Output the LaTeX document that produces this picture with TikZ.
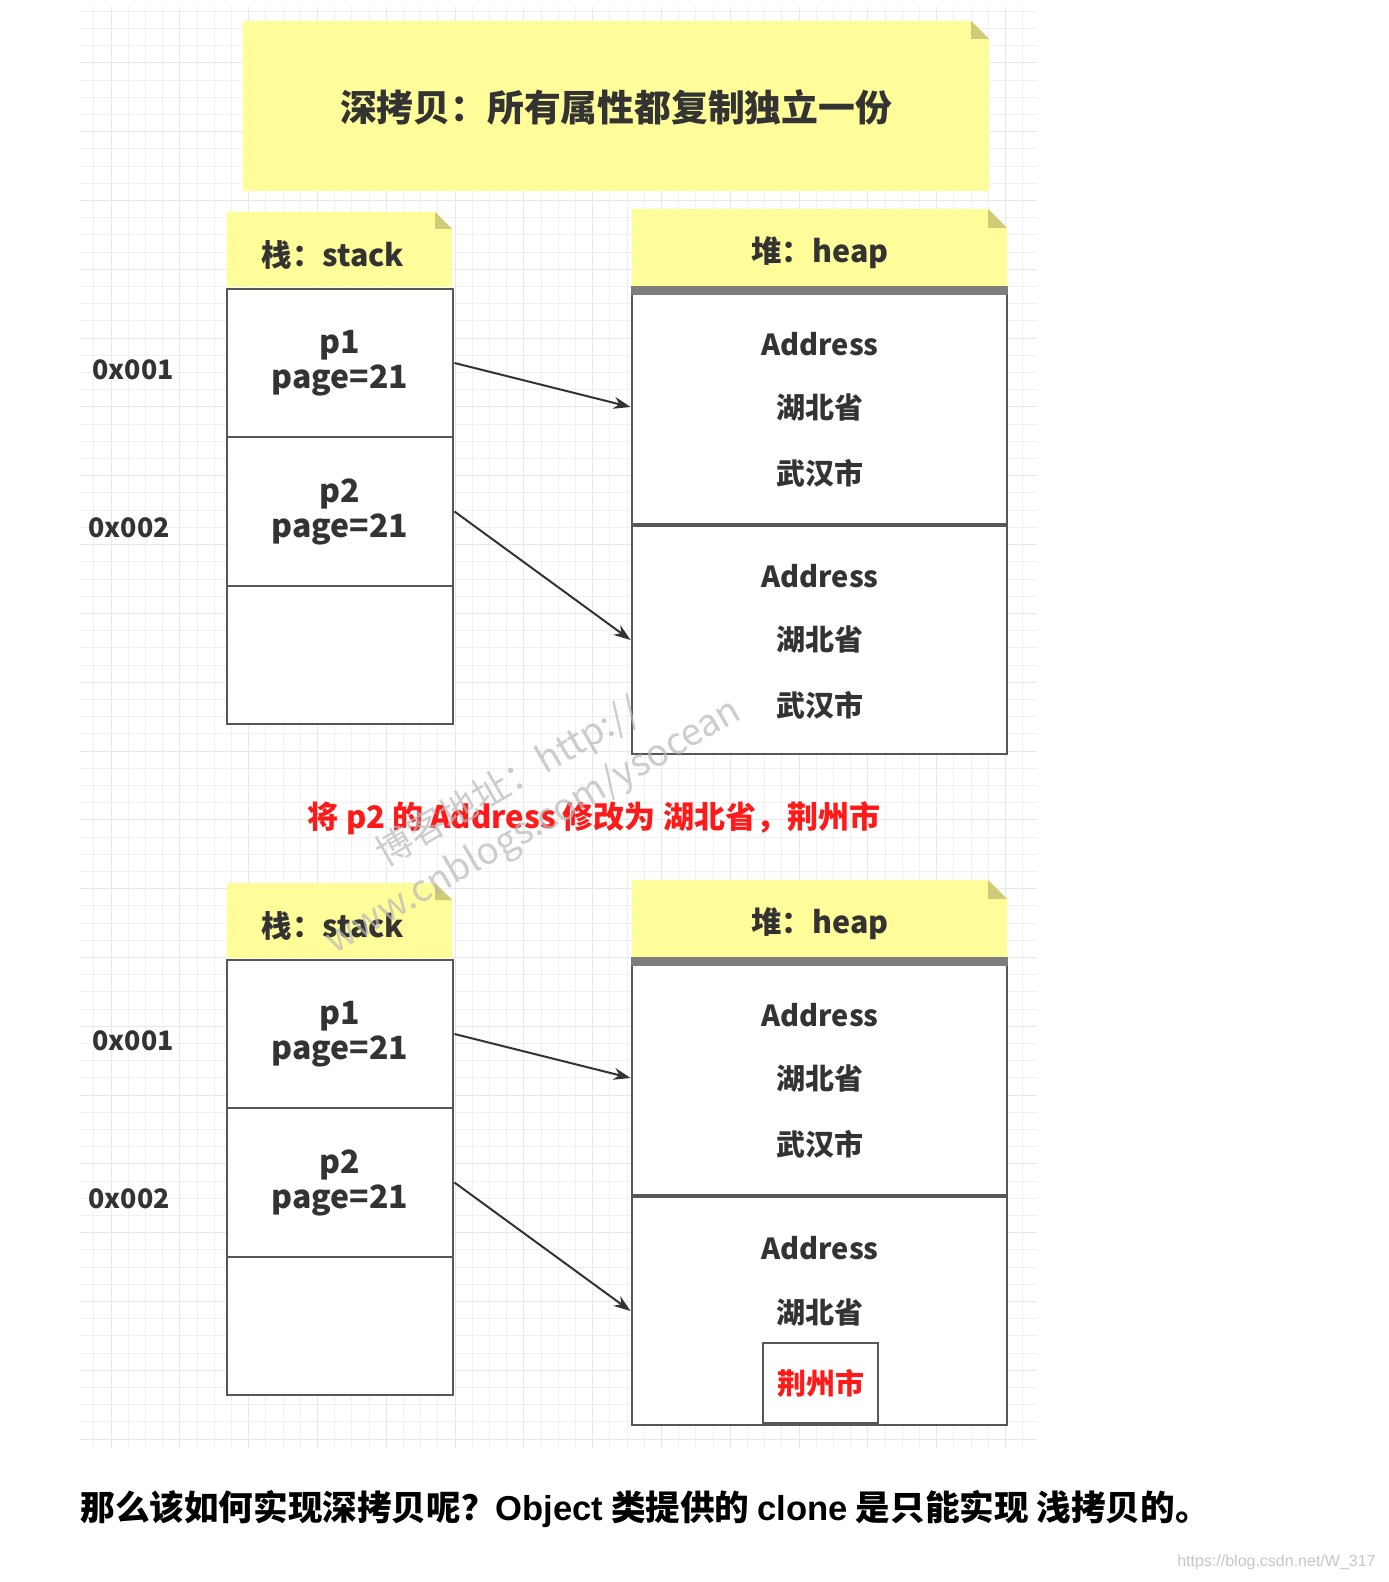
\documentclass[tikz,border=0pt]{standalone}
\usepackage{fontspec}
\setmainfont{Noto Sans CJK SC}
\newfontfamily\helv{Liberation Sans}
\usetikzlibrary{arrows.meta}
\definecolor{notey}{HTML}{FFFC9A}
\definecolor{notefoldc}{HTML}{CFCB77}
\definecolor{gminor}{HTML}{F0F0F0}
\definecolor{gmajor}{HTML}{E8E8E8}
\definecolor{txt}{HTML}{333333}
\definecolor{boxc}{HTML}{575757}
\definecolor{bandc}{HTML}{7D7D7D}
\definecolor{redc}{HTML}{FF1A1A}
\newcommand{\mynote}[5]{%
  \fill[notey] (#1,#2) -- ({#3-#5},#2) -- (#3,{#2+#5}) -- (#3,#4) -- (#1,#4) -- cycle;
  \fill[notefoldc] ({#3-#5},#2) -- ({#3-#5},{#2+#5}) -- (#3,{#2+#5}) -- cycle;
}
\begin{document}
\begin{tikzpicture}[x=0.5pt,y=-0.5pt,
  cell/.style={draw=boxc, line width=1.45pt, fill=white, rectangle, inner sep=0pt,
    text=txt, font=\bfseries\fontsize{16}{17.5}\selectfont, align=center},
  lab/.style={text=txt, font=\bfseries\fontsize{13.4}{16}\selectfont, inner sep=0pt},
  addr/.style={text=txt, font=\bfseries\fontsize{14.5}{18}\selectfont, inner sep=0pt},
  hdr/.style={text=txt, font=\bfseries\fontsize{15.2}{18}\selectfont, inner sep=0pt},
  conn/.style={draw=txt, line width=1pt, -{Stealth[length=8.5pt,width=6pt]}},
  gridminor/.style={draw=gminor, line width=0.5pt},
  gridmajor/.style={draw=gmajor, line width=0.5pt},
]
\useasboundingbox (0,0) rectangle (1388,1582);
\fill[white] (0,0) rectangle (1388,1582);
% grid
\foreach \i in {0,...,54} \draw[gridminor] ({93.8+17.2*\i},7) -- ({93.8+17.2*\i},1448);
\foreach \i in {0,...,83} \draw[gridminor] (80,{11.4+17.2*\i}) -- (1037,{11.4+17.2*\i});
\foreach \i in {0,...,13} \draw[gridmajor] ({111+68.8*\i},7) -- ({111+68.8*\i},1448);
\foreach \i in {0,...,20} \draw[gridmajor] (80,{63+68.8*\i}) -- (1037,{63+68.8*\i});

% title
\mynote{243}{21}{989}{191}{18}
\node[text=txt, font=\bfseries\fontsize{18.4}{20}\selectfont, inner sep=0pt] (title) at (616,107) {深拷贝：所有属性都复制独立一份};

% ===== top half =====
\mynote{227}{212}{452}{287}{17}
\node[hdr] (sh1) at (333,255) {栈：stack};
\node[cell, minimum width=113pt, minimum height=74pt] (s1) at (340,363) {p1\\page=21};
\node[cell, minimum width=113pt, minimum height=74.5pt] (s2) at (340,511.5) {p2\\page=21};
\node[cell, minimum width=113pt, minimum height=69pt] (s3) at (340,655) {};
\node[lab] (a1) at (133,370) {0x001};
\node[lab] (a2) at (129,528) {0x002};

\mynote{632}{209}{1007}{287}{19}
\node[hdr] (hh1) at (820,253) {堆：heap};
\node[cell, minimum width=187.5pt, minimum height=117pt] (h1) at (819.5,407) {};
\node[cell, minimum width=187.5pt, minimum height=114pt] (h2) at (819.5,640) {};
\fill[bandc] (631.4,286) rectangle (1007.6,295);
\node[addr] (h1a) at (820,344) {Address};
\node[addr] (h1b) at (820,408) {湖北省};
\node[addr] (h1c) at (820,473) {武汉市};
\node[addr] (h2a) at (820,576) {Address};
\node[addr] (h2b) at (820,640) {湖北省};
\node[addr] (h2c) at (820,705) {武汉市};

\draw[conn] (s1.east) -- (h1.west);
\draw[conn] (s2.east) -- (h2.west);

% middle red text
\node[text=redc, font=\bfseries\fontsize{15.5}{18}\selectfont, inner sep=0pt] (mod) at (594,818) {将 p2 的 Address 修改为 湖北省，荆州市};

% ===== bottom half =====
\mynote{227}{883}{452}{958}{17}
\node[hdr] (sh2) at (333,926) {栈：stack};
\node[cell, minimum width=113pt, minimum height=74pt] (s4) at (340,1034) {p1\\page=21};
\node[cell, minimum width=113pt, minimum height=74.5pt] (s5) at (340,1182.5) {p2\\page=21};
\node[cell, minimum width=113pt, minimum height=69pt] (s6) at (340,1326) {};
\node[lab] (a3) at (133,1041) {0x001};
\node[lab] (a4) at (129,1199) {0x002};

\mynote{632}{880}{1007}{958}{19}
\node[hdr] (hh2) at (820,924) {堆：heap};
\node[cell, minimum width=187.5pt, minimum height=117pt] (h3) at (819.5,1078) {};
\node[cell, minimum width=187.5pt, minimum height=114pt] (h4) at (819.5,1311) {};
\fill[bandc] (631.4,957) rectangle (1007.6,966);
\node[addr] (h3a) at (820,1015) {Address};
\node[addr] (h3b) at (820,1079) {湖北省};
\node[addr] (h3c) at (820,1144) {武汉市};
\node[addr] (h4a) at (820,1248) {Address};
\node[addr] (h4b) at (820,1313) {湖北省};
\node[cell, minimum width=57.5pt, minimum height=40pt, text=redc, font=\bfseries\fontsize{14.5}{18}\selectfont] (jz) at (820.5,1383) {荆州市};

\draw[conn] (s4.east) -- (h3.west);
\draw[conn] (s5.east) -- (h4.west);

% watermark
\node[rotate=30, align=center, text=black!28, text opacity=0.7, inner sep=0pt,
  font=\fontsize{18.5}{25}\selectfont] (wm) at (521,805) {博客地址：http://\\www.cnblogs.com/ysocean};

% bottom text
\node[anchor=west, text=black, inner sep=0pt, font=\bfseries\fontsize{17.3}{20}\selectfont] (bt) at (80,1509)
  {那么该如何实现深拷贝呢？{\helv\bfseries Object} 类提供的 {\helv\bfseries clone} 是只能实现 浅拷贝的。};
\node[anchor=east, text=black!22, inner sep=0pt, font=\helv\fontsize{8}{10}\selectfont] (csdn) at (1376,1562) {https://blog.csdn.net/W\_317};
\end{tikzpicture}
\end{document}
